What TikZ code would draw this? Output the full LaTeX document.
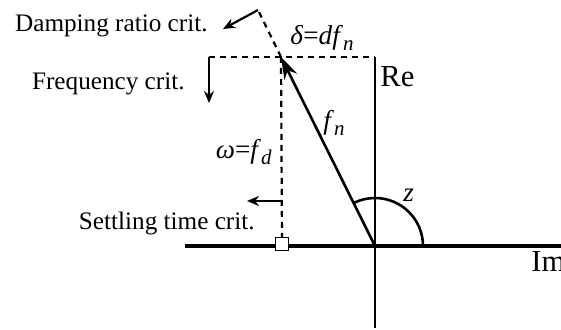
\documentclass[tikz,border=0pt]{standalone}
\usepackage{fontspec}
\setmainfont{Liberation Serif}
\usetikzlibrary{arrows.meta}
\newcommand{\mysub}[1]{\raisebox{-0.22em}{\fontsize{10.5}{12}\selectfont\textit{#1}}}
\begin{document}
\begin{tikzpicture}[x=0.5pt,y=-0.5pt,
  lbl/.style={font=\fontsize{12.6}{15}\selectfont, inner sep=0pt},
  mlbl/.style={font=\fontsize{13.6}{16}\selectfont, inner sep=0pt},
  axlbl/.style={font=\fontsize{15.3}{18}\selectfont, inner sep=0pt},
  dsh/.style={line width=1.1pt, dash pattern=on 3pt off 2.5pt},
  crit/.style={line width=1.1pt,-{Stealth[length=6pt,width=5pt]}}]
\useasboundingbox (0,0) rectangle (561,330);
% coordinates
\coordinate (O) at (375,246);
\coordinate (T) at (281,57);
\coordinate (xl) at (185,246);
\coordinate (xr) at (561,246);
\coordinate (yt) at (375,57);
\coordinate (yb) at (375,328);
\coordinate (D) at (258,10);
\coordinate (Da) at (223,29);
\coordinate (F) at (209,57);
\coordinate (Fa) at (209,103);
\coordinate (Ss) at (282,201);
\coordinate (Sa) at (247,201);
\coordinate (A0) at (423,246);
% axes
\draw[line width=1.6pt] (xl) -- (xr);
\draw[line width=0.9pt] (yt) -- (yb);
% dashed criteria lines
\draw[dsh] (F) -- (yt);
\draw[dsh] (T) -- (D);
\draw[dsh] (T) -- (282,244);
\node[draw, line width=0.8pt, fill=white, minimum size=6.5pt, inner sep=0pt] (sq) at (282,244) {};
% vector
\draw[line width=1.3pt, -{Stealth[length=11pt,width=7pt]}] (O) -- (T);
% criteria arrows
\draw[crit] (D) -- (Da);
\draw[crit] (F) -- (Fa);
\draw[crit] (Ss) -- (Sa);
% angle arc
\draw[line width=1.3pt] (A0) arc[start angle=0, end angle=-116.4, radius=48];
% labels
\node[lbl, anchor=base east] (dr) at (208,32) {Damping ratio crit.};
\node[lbl, anchor=base east] (fc) at (185,90) {Frequency crit.};
\node[lbl, anchor=base east] (st) at (255,230) {Settling time crit.};
\node[mlbl, anchor=base east] (om) at (272,159) {\textit{ω}=\textit{f}\mysub{d}};
\node[mlbl, anchor=base west] (de) at (290,45) {\textit{δ}=\textit{df}\mysub{n}};
\node[mlbl, anchor=base west] (fn) at (323,130) {\textit{f}\mysub{n}};
\node[mlbl, anchor=base west] (z) at (403,202) {\textit{z}};
\node[axlbl, anchor=base west] (re) at (380,87) {Re};
\node[axlbl, anchor=base west] (im) at (531,272) {Im};
\end{tikzpicture}
\end{document}
